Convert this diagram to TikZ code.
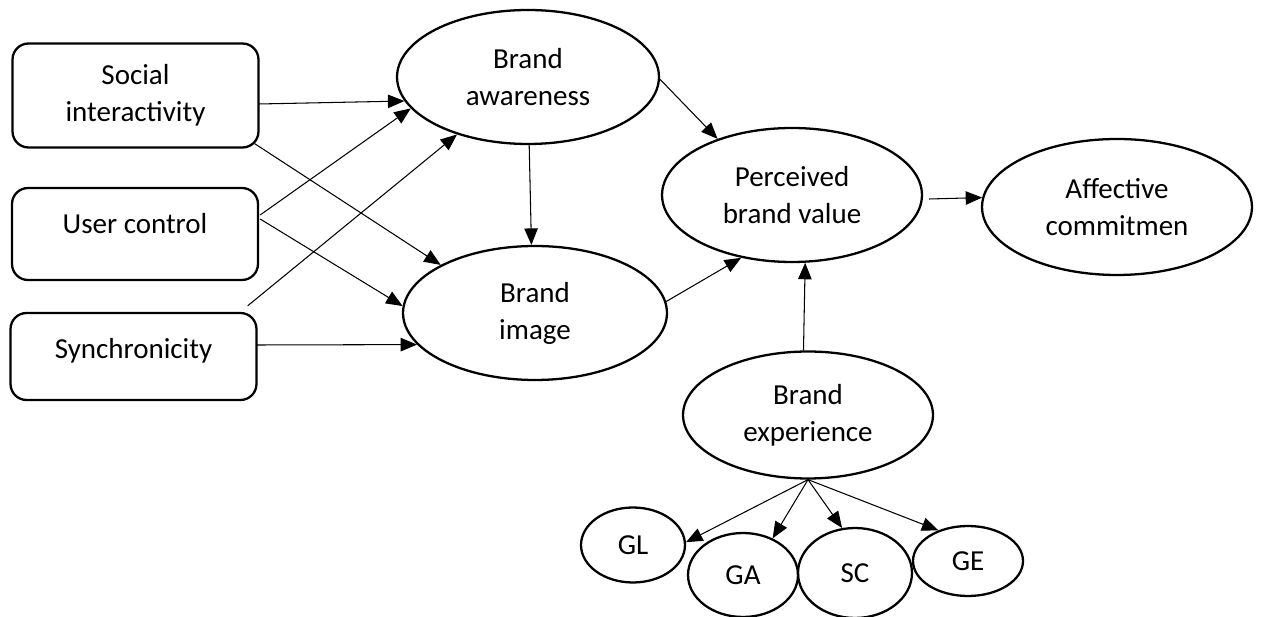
\documentclass[tikz,border=0pt]{standalone}
\usepackage{fontspec}
\setmainfont{Carlito}
\usetikzlibrary{arrows.meta, shapes.geometric}

\begin{document}
\begin{tikzpicture}[x=0.02cm, y=-0.02cm,
every node/.style={align=center, font=\fontsize{16.5}{21}\selectfont},
>={Triangle[length=0.33cm, width=0.27cm]},
construct/.style={rectangle, rounded corners=0.32cm, draw, line width=1.3pt, minimum width=4.92cm},
latent/.style={ellipse, draw, line width=1.3pt, inner sep=0pt},
link/.style={->, line width=0.6pt}]

  \useasboundingbox (0,0) rectangle (1261,617);

  % Antecedents
  \node[construct, minimum height=2.08cm] (social) at (135.5,95.5) {Social\\interactivity};
  \node[construct, minimum height=1.84cm] (user) at (135,234) {\raisebox{0.44cm}{User control}};
  \node[construct, minimum height=1.74cm] (sync) at (133.5,356.5) {\raisebox{0.32cm}{Synchronicity}};

  % Brand constructs
  \node[latent, minimum width=5.24cm, minimum height=2.68cm] (aware) at (528,77) {Brand\\awareness};
  \node[latent, minimum width=5.28cm, minimum height=2.68cm] (image) at (535,313) {Brand\\image};
  \node[latent, minimum width=5.2cm, minimum height=2.68cm] (value) at (792,195) {Perceived\\brand value};
  \node[latent, minimum width=5.4cm, minimum height=2.72cm] (commit) at (1117,207) {Affective\\commitmen};
  \node[latent, minimum width=5.0cm, minimum height=2.54cm] (exper) at (808,415) {Brand\\experience};

  % Experience dimensions
  \node[latent, minimum width=2.08cm, minimum height=1.5cm] (gl) at (633,545) {GL};
  \node[latent, minimum width=2.2cm, minimum height=1.68cm] (ga) at (743,575) {GA};
  \node[latent, minimum width=2.28cm, minimum height=1.8cm] (sc) at (855,573) {SC};
  \node[latent, minimum width=2.2cm, minimum height=1.4cm] (ge) at (968,561) {GE};

  \draw[link] ([shift={(-1,8.5)}]social.east) -- (aware.191);
  \draw[link] ([shift={(-5,-5)}]social.south east) -- (image.153);
  \draw[link] ([shift={(1,-19)}]user.east) -- (aware.195);
  \draw[link] ([shift={(1,-15)}]user.east) -- (image.177);
  \draw[link] ([shift={(-10,-6)}]sync.north east) -- (aware.219);
  \draw[link] ([shift={(-1,-11.5)}]sync.east) -- (image.195);

  \draw[link] (aware.271) -- (image.93);
  \draw[link] (aware.359) -- (value.143);
  \draw[link] (image.5) -- (value.231);
  \draw[link] (exper.94) -- (value.281);
  \draw[link] ([shift={(6,4)}]value.east) -- (commit.176);

  \draw[link] (exper.south) -- (gl.3);
  \draw[link] (exper.south) -- (ga.51);
  \draw[link] (exper.south) -- (sc.106);
  \draw[link] (exper.south) -- (ge.134);

\end{tikzpicture}
\end{document}
